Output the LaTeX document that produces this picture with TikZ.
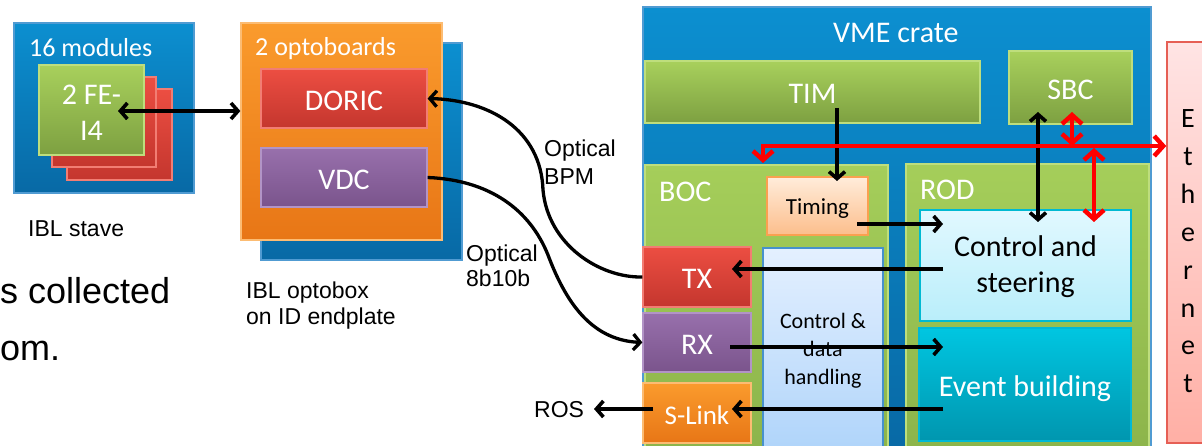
\documentclass[tikz,border=0pt]{standalone}
\usepackage{fontspec}
\setmainfont{Carlito}
\newfontfamily\arialf{Liberation Sans}
\usetikzlibrary{arrows.meta}
\definecolor{blueT}{RGB}{12,143,208}
\definecolor{blueB}{RGB}{8,105,165}
\definecolor{blueE}{RGB}{80,155,210}
\definecolor{greenT}{RGB}{168,208,92}
\definecolor{greenB}{RGB}{125,160,65}
\definecolor{greenE}{RGB}{190,222,125}
\definecolor{gflatT}{RGB}{165,206,90}
\definecolor{gflatB}{RGB}{140,180,75}
\definecolor{redT}{RGB}{236,78,66}
\definecolor{redB}{RGB}{196,54,46}
\definecolor{redE}{RGB}{242,125,115}
\definecolor{purT}{RGB}{152,112,172}
\definecolor{purB}{RGB}{122,84,140}
\definecolor{purE}{RGB}{178,148,198}
\definecolor{orT}{RGB}{250,155,45}
\definecolor{orB}{RGB}{232,118,22}
\definecolor{orE}{RGB}{252,188,115}
\definecolor{tiT}{RGB}{255,236,218}
\definecolor{tiB}{RGB}{252,190,140}
\definecolor{tiE}{RGB}{250,160,80}
\definecolor{csT}{RGB}{225,248,255}
\definecolor{csB}{RGB}{185,238,250}
\definecolor{csE}{RGB}{0,185,210}
\definecolor{ebT}{RGB}{0,198,225}
\definecolor{ebB}{RGB}{0,150,175}
\definecolor{ebE}{RGB}{0,185,215}
\definecolor{cdT}{RGB}{228,240,255}
\definecolor{cdB}{RGB}{175,212,250}
\definecolor{cdE}{RGB}{70,145,205}
\definecolor{ethT}{RGB}{255,228,228}
\definecolor{ethB}{RGB}{255,175,165}
\definecolor{ethE}{RGB}{230,95,85}
\definecolor{redline}{RGB}{255,0,0}
\begin{document}
\begin{tikzpicture}[x=1pt,y=-1pt,
  bx/.style={rectangle, inner sep=0pt, line width=1.2pt, align=center},
  bluebox/.style={bx, top color=blueT, bottom color=blueB, draw=blueE},
  greenbox/.style={bx, top color=greenT, bottom color=greenB, draw=greenE},
  gflat/.style={bx, top color=gflatT, bottom color=gflatB, draw=greenE},
  redbox/.style={bx, top color=redT, bottom color=redB, draw=redE},
  purbox/.style={bx, top color=purT, bottom color=purB, draw=purE},
  orbox/.style={bx, top color=orT, bottom color=orB, draw=orE},
  tibox/.style={bx, top color=tiT, bottom color=tiB, draw=tiE, line width=2pt},
  csbox/.style={bx, top color=csT, bottom color=csB, draw=csE, line width=2pt},
  ebbox/.style={bx, top color=ebT, bottom color=ebB, draw=ebE, line width=2pt},
  cdbox/.style={bx, top color=cdT, bottom color=cdB, draw=cdE, line width=1.5pt},
  ethbox/.style={bx, top color=ethT, bottom color=ethB, draw=ethE, line width=1.5pt},
  big/.style={font=\fontsize{30}{36}\selectfont},
  bigc/.style={big, text height=26pt, text depth=2pt},
  mid/.style={font=\fontsize{26}{31}\selectfont},
  wt/.style={text=white},
  lab/.style={inner sep=0pt, font=\arialf\fontsize{23}{27}\selectfont, align=left},
  barr/.style={line width=3.6pt, black, arrows={-Straight Barb[length=7pt,width=16pt]}},
  bdbl/.style={line width=3.6pt, black, arrows={Straight Barb[length=7pt,width=16pt]-Straight Barb[length=7pt,width=16pt]}},
  rdbl/.style={line width=4.5pt, redline, arrows={Straight Barb[length=9pt,width=20pt]-Straight Barb[length=9pt,width=20pt]}},
]
\useasboundingbox (0,0) rectangle (1202,446);
\clip (0,0) rectangle (1202,446);

% ---------- IBL stave ----------
\node[bluebox, minimum width=180pt, minimum height=170pt] (stave) at (104,108) {};
\node[anchor=base west, inner sep=0pt, wt, mid] (stavet) at (29,57) {16 modules};
\node[redbox, minimum width=105pt, minimum height=91pt] (card3) at (119.5,134.5) {};
\node[redbox, minimum width=104pt, minimum height=90pt] (card2) at (104,122) {};
\node[greenbox, minimum width=105pt, minimum height=90pt] (fe) at (91.5,110) {};
\node[anchor=base, inner sep=0pt, wt, big, align=center] (fet) at (91.5,141) {2 FE-\\I4};
\node[anchor=base west, lab] (stavel) at (28,237) {IBL stave};

% ---------- optobox ----------
\node[bluebox, minimum width=201pt, minimum height=217pt] (optoback) at (361.5,151.5) {};
\node[orbox, minimum width=201pt, minimum height=217pt] (opto) at (341.5,131.5) {};
\node[anchor=base west, inner sep=0pt, wt, mid] (optot) at (255,56) {2 optoboards};
\node[redbox, wt, bigc, minimum width=166pt, minimum height=59pt] (doric) at (344,98.5) {DORIC};
\node[purbox, wt, bigc, minimum width=166pt, minimum height=59pt] (vdc) at (344,177.5) {VDC};
\node[anchor=base west, lab, font=\arialf\fontsize{23}{26}\selectfont] (optol) at (246,324) {IBL optobox\\on ID endplate};

% ---------- clipped slide text ----------
\node[anchor=base west, inner sep=0pt, font=\arialf\fontsize{36}{57}\selectfont, align=left] (slidet) at (0,360) {s collected\\om.};

% ---------- VME crate ----------
\node[bluebox, minimum width=508pt, minimum height=445pt] (crate) at (897,229.5) {};
\node[anchor=base west, inner sep=0pt, wt, big] (cratet) at (833,43) {VME crate};
\node[greenbox, wt, bigc, minimum width=335pt, minimum height=62pt] (tim) at (812.5,92) {TIM};
\node[greenbox, wt, bigc, minimum width=123pt, minimum height=73pt] (sbc) at (1070.5,87.5) {SBC};
\node[gflat, minimum width=243pt, minimum height=287pt] (boc) at (766.5,308.5) {};
\node[anchor=base west, inner sep=0pt, wt, big] (boct) at (659,202) {BOC};
\node[gflat, minimum width=243pt, minimum height=288pt] (rod) at (1027.5,308) {};
\node[anchor=base west, inner sep=0pt, wt, big] (rodt) at (920,200) {ROD};
\node[tibox, font=\fontsize{23}{28}\selectfont, text height=19pt, text depth=1pt, minimum width=101pt, minimum height=58pt] (timing) at (817.5,206) {Timing};
\node[csbox, minimum width=211pt, minimum height=111pt] (cs) at (1025.5,265.5) {};
\node[anchor=base, inner sep=0pt, big, align=center] (cst) at (1025.5,293) {Control and\\steering};
\node[ebbox, wt, bigc, minimum width=212pt, minimum height=113pt] (eb) at (1025,384.5) {Event building};
\node[cdbox, minimum width=120pt, minimum height=204pt] (cd) at (823,350) {};
\node[anchor=base, inner sep=0pt, font=\fontsize{22}{28}\selectfont, align=center] (cdt) at (823,384) {Control \&\\data\\handling};
\node[redbox, wt, bigc, minimum width=108pt, minimum height=60pt] (tx) at (697,277) {TX};
\node[purbox, wt, bigc, minimum width=108pt, minimum height=59pt] (rx) at (697,342.5) {RX};
\node[orbox, wt, font=\fontsize{27}{32}\selectfont, text height=24pt, text depth=1pt, minimum width=108pt, minimum height=60pt] (slink) at (697,413) {S-Link};
\node[anchor=base west, lab] (ros) at (534,417) {ROS};

% ---------- Ethernet ----------
\node[ethbox, minimum width=50pt, minimum height=401pt] (eth) at (1192,242.5) {};
\foreach \c [count=\i] in {E,t,h,e,r,n,e,t}{
  \node[anchor=base, inner sep=0pt, font=\fontsize{28}{34}\selectfont] (eth\i) at (1188,{128+37.8*(\i-1)}) {\c};
}

% ---------- labels of optical links ----------
\node[anchor=base west, lab, font=\arialf\fontsize{23}{28}\selectfont] (bpm) at (544,185) {Optical\\BPM};
\node[anchor=base west, lab, font=\arialf\fontsize{23}{25}\selectfont] (b810) at (466,287) {Optical\\8b10b};

% ---------- connectors ----------
\coordinate (feA) at (118,111);
\draw[bdbl] (feA) -- (feA -| opto.west);

\draw[line width=3.3pt, arrows={-Straight Barb[length=7pt,width=16pt]}]
  (tx.west) .. controls (600,278) and (548,245) .. (543,190)
            .. controls (541,130) and (490,100) .. (doric.east);
\draw[line width=3.3pt, arrows={-Straight Barb[length=7pt,width=16pt]}]
  (vdc.east) .. controls (490,180) and (530,210) .. (548,255)
             .. controls (565,300) and (590,340) .. (rx.west);

\coordinate (timA) at (837,108);
\draw[barr, shorten >=-5pt] (timA) -- (timA |- timing.north);
\coordinate (tmA) at (857,224);
\coordinate (csA) at (943,224);
\draw[barr] (tmA) -- (csA);
\coordinate (csB) at (943,269);
\coordinate (txA) at (732,269);
\draw[barr] (csB) -- (txA);
\coordinate (rxA) at (730,347);
\coordinate (ebA) at (943,347);
\draw[barr] (rxA) -- (ebA);
\coordinate (ebB) at (943,409);
\coordinate (slA) at (732,409);
\draw[barr] (ebB) -- (slA);
\coordinate (slB) at (653,409);
\coordinate (rosA) at (594,409);
\draw[barr] (slB) -- (rosA);
\coordinate (sbcA) at (1038,112);
\coordinate (csC) at (1038,222);
\draw[bdbl] (sbcA) -- (csC);

\coordinate (sbcR) at (1072,112);
\coordinate (busS) at (1072,146);
\draw[rdbl] (sbcR) -- (busS);
\coordinate (busR) at (1094,148);
\coordinate (csR) at (1094,222);
\draw[rdbl] (busR) -- (csR);
\coordinate (busL) at (763,163);
\coordinate (busC) at (763,146);
\draw[rdbl, line join=miter] (busL) -- (busC) -- (busC -| eth.west);
\end{tikzpicture}
\end{document}
